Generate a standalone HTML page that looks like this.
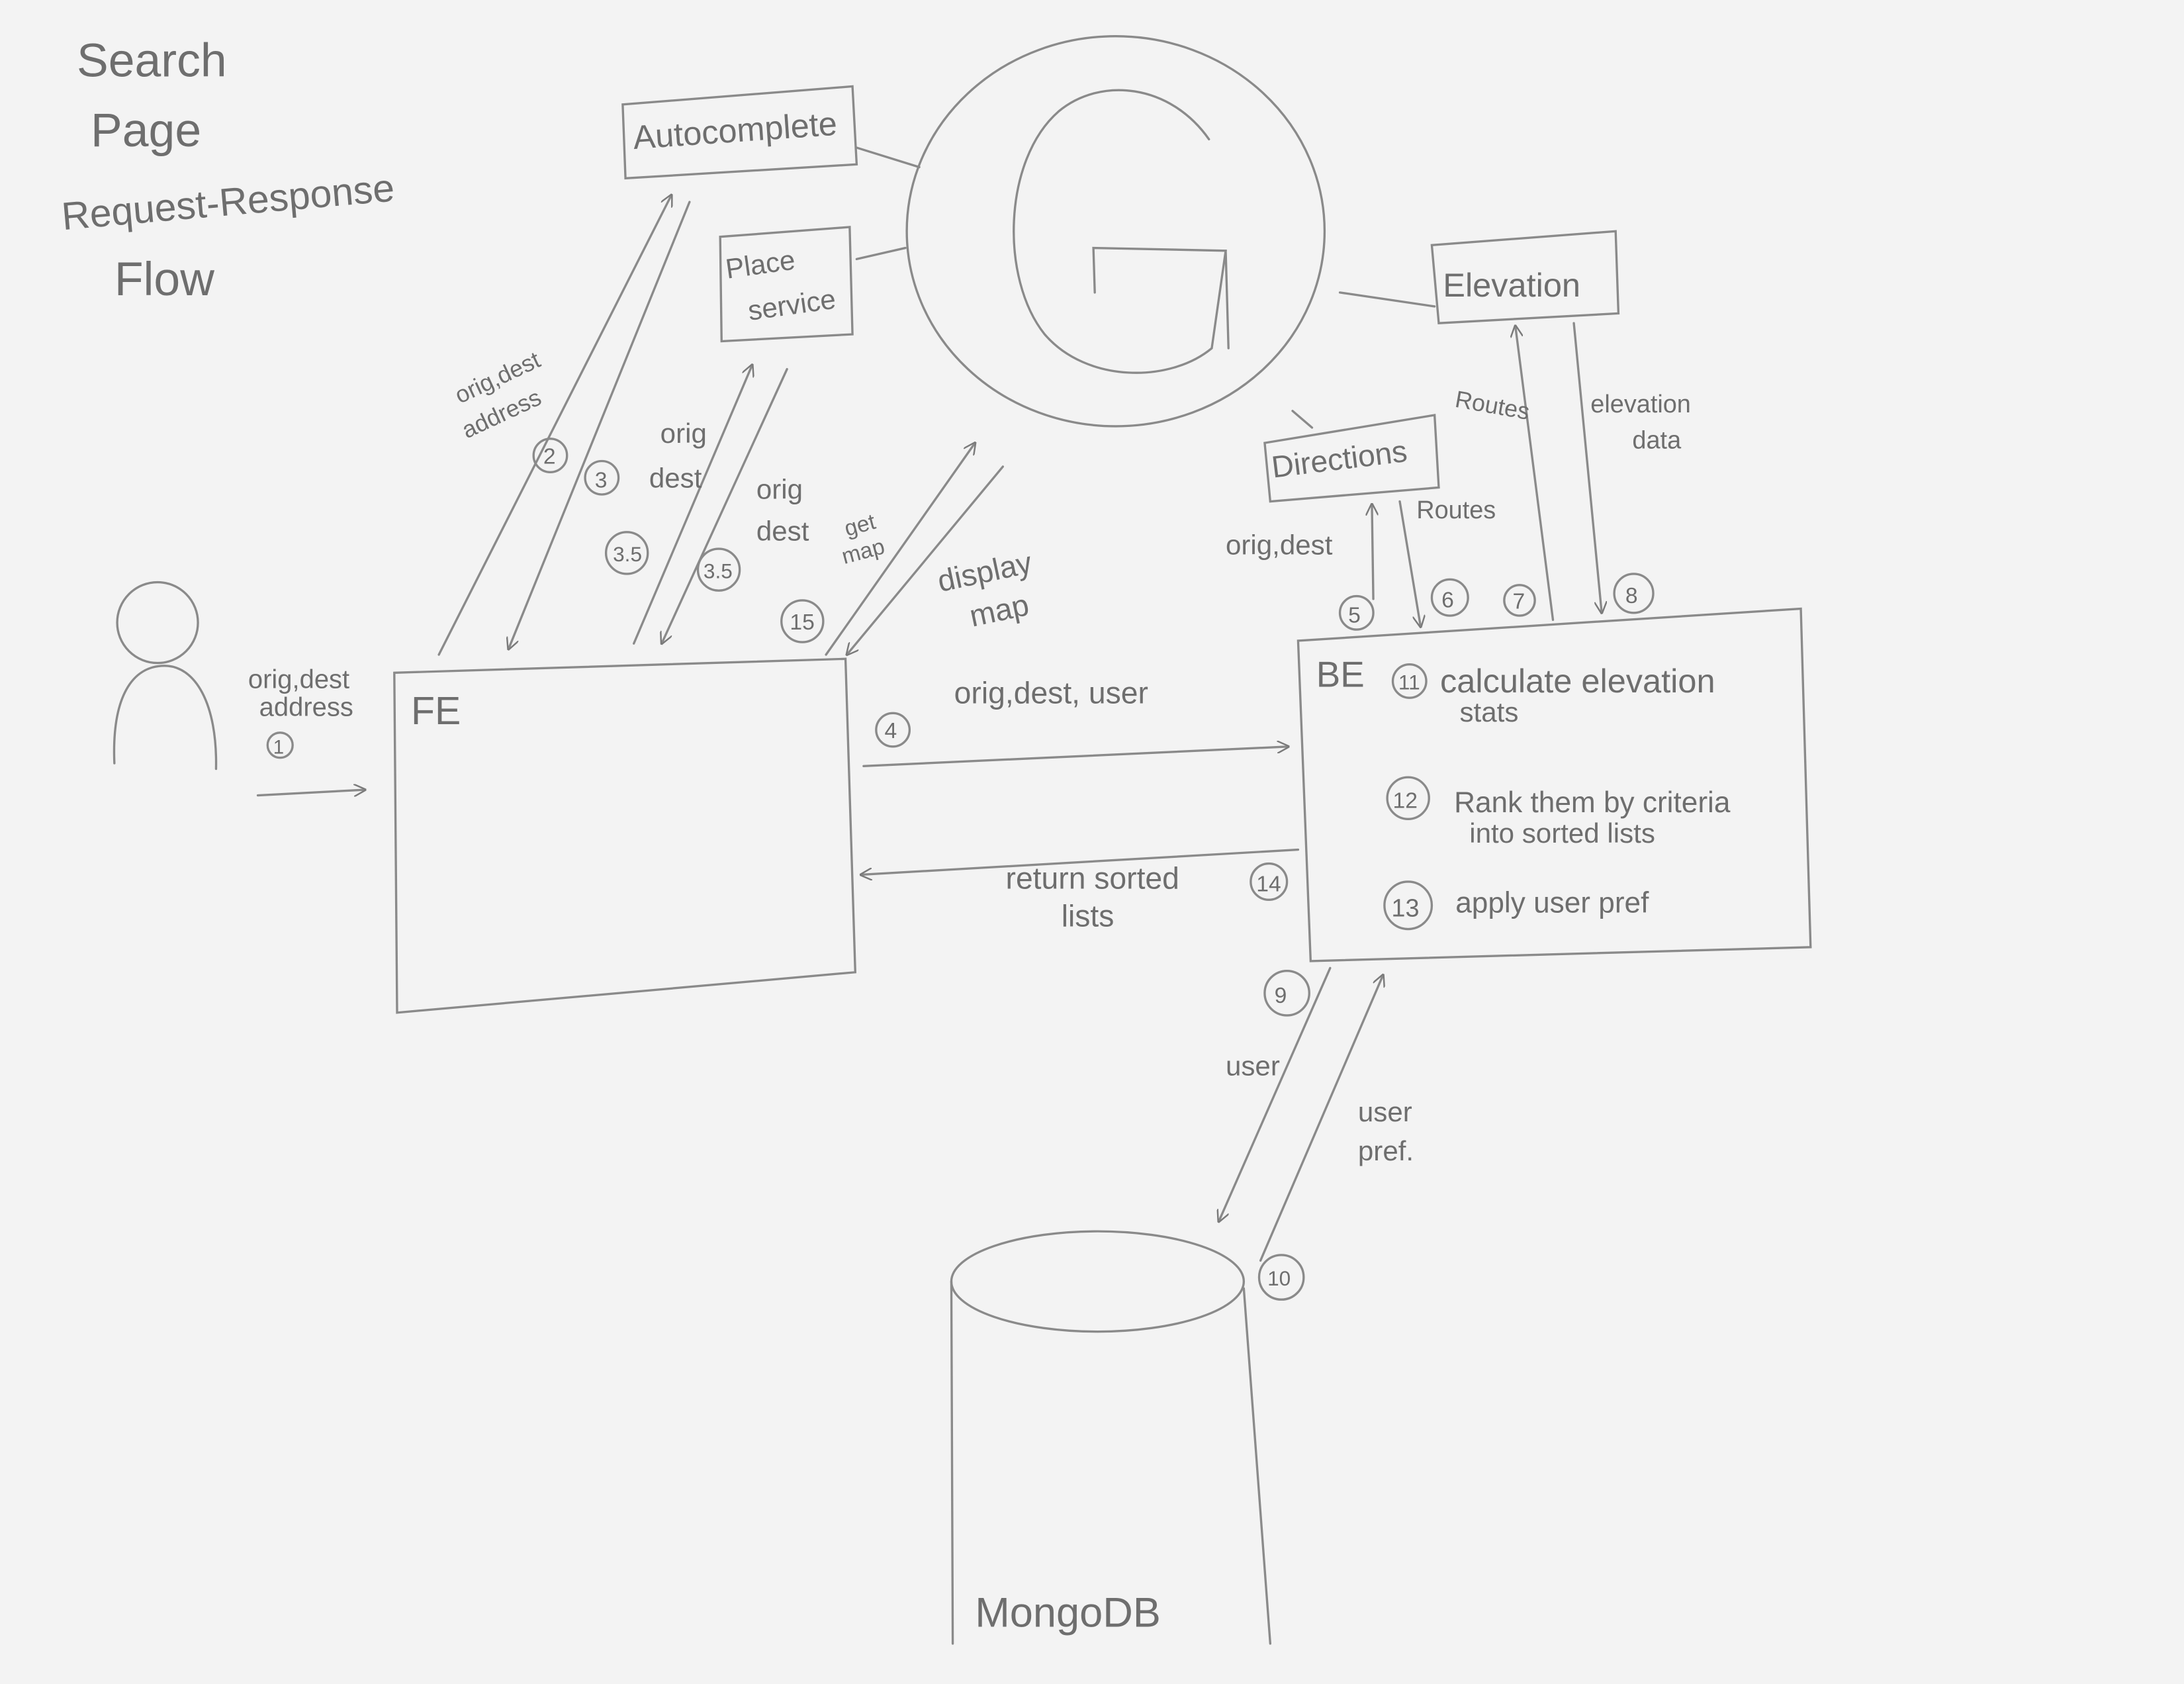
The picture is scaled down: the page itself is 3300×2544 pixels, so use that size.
<!DOCTYPE html>
<html><head><meta charset="utf-8"><style>
html,body{margin:0;padding:0;background:#f3f3f3;}
svg{display:block;}
text{font-family:"Liberation Sans",sans-serif;fill:#6e6e6e;}
</style></head><body>
<svg width="3300" height="2544" viewBox="0 0 1568 1209" xmlns="http://www.w3.org/2000/svg">
<defs>
<marker id="a" viewBox="0 0 10 10" refX="9" refY="5" markerWidth="9" markerHeight="9" orient="auto-start-reverse" markerUnits="userSpaceOnUse">
<path d="M0,0 L10,5 L0,10" fill="none" stroke="#7a7a7a" stroke-width="1.3"/></marker>
</defs>
<rect width="1568" height="1209" fill="#f3f3f3"/>
<g stroke="#8a8a8a" stroke-width="1.6" fill="none" stroke-linecap="round">
<!-- person -->
<circle cx="113" cy="447" r="29"/>
<path d="M82,548 C80,500 95,478 118,478 C140,478 156,505 155,552"/>
<line x1="185" y1="571" x2="262" y2="567" marker-end="url(#a)"/>
<!-- FE -->
<path d="M283,483 L607,473 L614,698 L285,727 Z"/>
<!-- Autocomplete -->
<path d="M447,75 L612,62 L615,118 L449,128 Z"/>
<!-- Place service -->
<path d="M517,170 L610,163 L612,240 L518,245 Z"/>
<!-- G circle -->
<ellipse cx="801" cy="166" rx="150" ry="140"/>
<path d="M868,100 C840,60 790,55 760,80 C720,115 718,200 750,240 C780,275 840,275 870,250 L880,180 L785,178 L786,210"/>
<path d="M880,180 L882,250"/>
<!-- connectors to G -->
<line x1="615" y1="106" x2="660" y2="120"/>
<line x1="615" y1="186" x2="650" y2="178"/>
<line x1="962" y1="210" x2="1030" y2="220"/>
<line x1="928" y1="295" x2="942" y2="307"/>
<!-- Elevation -->
<path d="M1028,176 L1160,166 L1162,225 L1033,232 Z"/>
<!-- Directions -->
<path d="M908,318 L1030,298 L1033,350 L912,360 Z"/>
<!-- BE -->
<path d="M932,460 L1293,437 L1300,680 L941,690 Z"/>
<!-- Mongo -->
<ellipse cx="788" cy="920" rx="105" ry="36"/>
<path d="M683,920 L684,1180"/>
<path d="M893,925 L912,1180"/>
<!-- arrows -->
<line x1="315" y1="470" x2="482" y2="140" marker-end="url(#a)"/>
<line x1="495" y1="145" x2="365" y2="466" marker-end="url(#a)"/>
<line x1="455" y1="462" x2="540" y2="262" marker-end="url(#a)"/>
<line x1="565" y1="265" x2="475" y2="462" marker-end="url(#a)"/>
<line x1="593" y1="470" x2="700" y2="318" marker-end="url(#a)"/>
<line x1="720" y1="335" x2="608" y2="470" marker-end="url(#a)"/>
<line x1="620" y1="550" x2="925" y2="536" marker-end="url(#a)"/>
<line x1="932" y1="610" x2="618" y2="628" marker-end="url(#a)"/>
<line x1="986" y1="430" x2="985" y2="362" marker-end="url(#a)"/>
<line x1="1005" y1="360" x2="1020" y2="450" marker-end="url(#a)"/>
<line x1="1115" y1="445" x2="1088" y2="234" marker-end="url(#a)"/>
<line x1="1130" y1="232" x2="1150" y2="440" marker-end="url(#a)"/>
<line x1="955" y1="695" x2="875" y2="877" marker-end="url(#a)"/>
<line x1="905" y1="905" x2="993" y2="700" marker-end="url(#a)"/>
<!-- circled numbers -->
<circle cx="201" cy="535" r="9"/>
<circle cx="395" cy="327" r="12"/>
<circle cx="432" cy="343" r="12"/>
<circle cx="450" cy="397" r="15"/>
<circle cx="516" cy="409" r="15"/>
<circle cx="576" cy="446" r="15"/>
<circle cx="641" cy="524" r="12"/>
<circle cx="911" cy="633" r="13"/>
<circle cx="974" cy="440" r="12"/>
<circle cx="1041" cy="429" r="13"/>
<circle cx="1091" cy="431" r="11"/>
<circle cx="1173" cy="426" r="14"/>
<circle cx="1012" cy="489" r="12"/>
<circle cx="1011" cy="573" r="15"/>
<circle cx="1011" cy="650" r="17"/>
<circle cx="924" cy="713" r="16"/>
<circle cx="920" cy="917" r="16"/>
</g>
<g font-size="26">
<text x="55" y="55" font-size="34">Search</text>
<text x="65" y="105" font-size="34">Page</text>
<text x="45" y="165" font-size="28" transform="rotate(-5 45 165)">Request-Response</text>
<text x="82" y="212" font-size="34">Flow</text>
<text x="455" y="107" font-size="24" transform="rotate(-4 455 107)">Autocomplete</text>
<text x="522" y="200" font-size="20" transform="rotate(-8 522 200)">Place</text>
<text x="538" y="230" font-size="20" transform="rotate(-8 538 230)">service</text>
<text x="1036" y="213" font-size="24">Elevation</text>
<text x="914" y="343" font-size="22" transform="rotate(-7 914 343)">Directions</text>
<text x="295" y="520" font-size="28">FE</text>
<text x="945" y="493" font-size="26">BE</text>
<text x="700" y="1168" font-size="30">MongoDB</text>
<text x="178" y="494" font-size="19">orig,dest</text>
<text x="186" y="514" font-size="19">address</text>
<text x="196" y="541" font-size="14">1</text>
<text x="330" y="290" font-size="17" transform="rotate(-25 330 290)">orig,dest</text>
<text x="335" y="315" font-size="17" transform="rotate(-25 335 315)">address</text>
<text x="390" y="333" font-size="16">2</text>
<text x="427" y="350" font-size="16">3</text>
<text x="440" y="403" font-size="15">3.5</text>
<text x="505" y="415" font-size="15">3.5</text>
<text x="567" y="452" font-size="16">15</text>
<text x="474" y="318" font-size="20">orig</text>
<text x="466" y="350" font-size="20">dest</text>
<text x="543" y="358" font-size="20">orig</text>
<text x="543" y="388" font-size="20">dest</text>
<text x="608" y="385" font-size="16" transform="rotate(-15 608 385)">get</text>
<text x="606" y="405" font-size="16" transform="rotate(-15 606 405)">map</text>
<text x="675" y="425" font-size="22" transform="rotate(-12 675 425)">display</text>
<text x="698" y="450" font-size="22" transform="rotate(-12 698 450)">map</text>
<text x="685" y="505" font-size="22">orig,dest, user</text>
<text x="635" y="530" font-size="16">4</text>
<text x="722" y="638" font-size="22">return sorted</text>
<text x="762" y="665" font-size="22">lists</text>
<text x="902" y="640" font-size="16">14</text>
<text x="880" y="398" font-size="20">orig,dest</text>
<text x="1017" y="372" font-size="18">Routes</text>
<text x="1044" y="292" font-size="17" transform="rotate(10 1044 292)">Routes</text>
<text x="1142" y="296" font-size="18">elevation</text>
<text x="1172" y="322" font-size="18">data</text>
<text x="968" y="447" font-size="16">5</text>
<text x="1035" y="436" font-size="16">6</text>
<text x="1086" y="437" font-size="16">7</text>
<text x="1167" y="433" font-size="16">8</text>
<text x="1004" y="495" font-size="15">11</text>
<text x="1034" y="497" font-size="24">calculate elevation</text>
<text x="1048" y="518" font-size="20">stats</text>
<text x="1000" y="580" font-size="16">12</text>
<text x="1044" y="583" font-size="21">Rank them by criteria</text>
<text x="1055" y="605" font-size="20">into sorted lists</text>
<text x="999" y="658" font-size="18">13</text>
<text x="1045" y="655" font-size="21">apply user pref</text>
<text x="915" y="720" font-size="16">9</text>
<text x="880" y="772" font-size="20">user</text>
<text x="975" y="805" font-size="20">user</text>
<text x="975" y="833" font-size="20">pref.</text>
<text x="910" y="923" font-size="15">10</text>
</g>
</svg>
</body></html>
